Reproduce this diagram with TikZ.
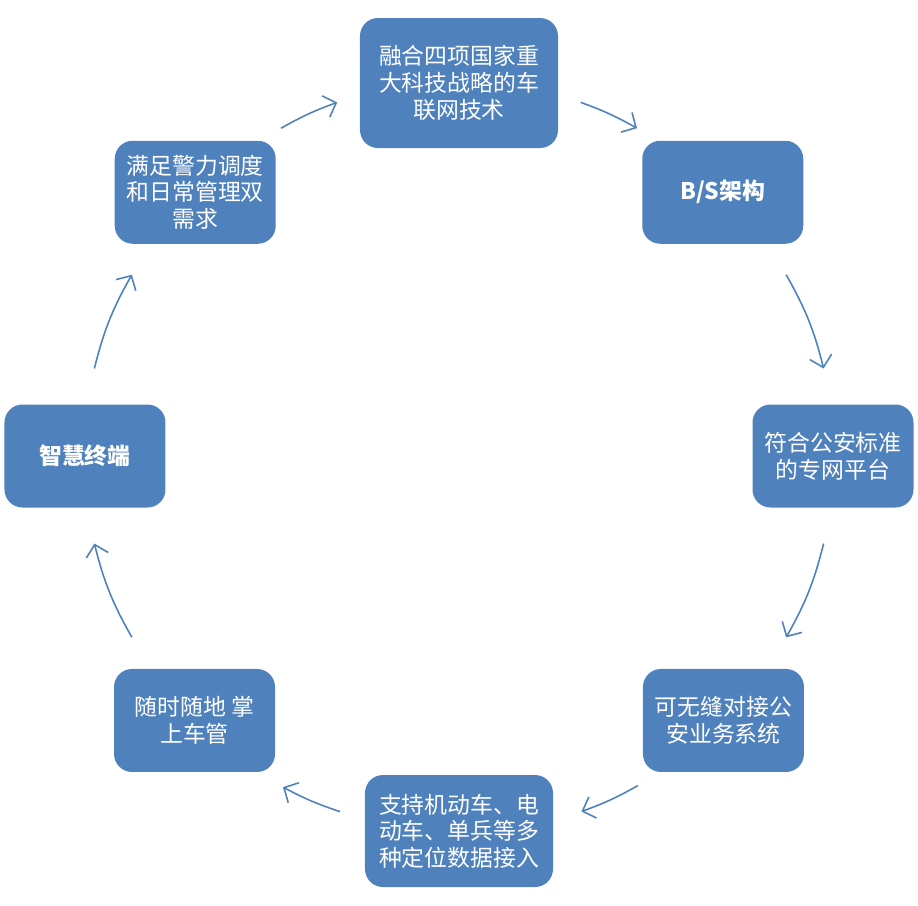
\documentclass[tikz,border=0pt]{standalone}
\usepackage{fontspec}
\setmainfont{Noto Sans CJK SC}
\usetikzlibrary{arrows.meta}
\definecolor{boxblue}{HTML}{4F81BD}
\tikzset{
  card/.style={rectangle, rounded corners=0.18cm, fill=boxblue, text=white, align=center,
    inner sep=0pt, minimum width=1.61cm, minimum height=1.03cm,
    font=\fontsize{6.5pt}{7.6pt}\selectfont},
  flow/.style={draw=boxblue, line width=0.45pt, -{Straight Barb[length=3.1pt,width=6.4pt]}}
}
\begin{document}
\begin{tikzpicture}
\useasboundingbox (-4.59,-4.49) rectangle (4.59,4.56);
\node[card, minimum width=1.98cm, minimum height=1.30cm] (tech) at (90:3.73){融合四项国家重\\大科技战略的车\\联网技术};
\node[card, font=\fontsize{6.5pt}{7.6pt}\selectfont\bfseries] (bs) at (45:3.73){B/S架构};
\node[card] (net) at (0:3.74){符合公安标准\\的专网平台};
\node[card] (sys) at (-45:3.74){可无缝对接公\\安业务系统};
\node[card, minimum width=1.88cm, minimum height=1.12cm] (gps) at (-90:3.75){支持机动车、电\\动车、单兵等多\\种定位数据接入};
\node[card] (mob) at (-135:3.74){随时随地 掌\\上车管};
\node[card, font=\fontsize{6.5pt}{7.6pt}\selectfont\bfseries] (term) at (180:3.74){智慧终端};
\node[card] (need) at (135:3.73){满足警力调度\\和日常管理双\\需求};
% arc ends on the ring
\coordinate (a1s) at (118.5:3.73); \coordinate (a1e) at (109:3.74);
\coordinate (a2s) at (71:3.74);    \coordinate (a2e) at (61.5:3.73);
\coordinate (a3s) at (29:3.74);    \coordinate (a3e) at (13.5:3.75);
\coordinate (a4s) at (-13.5:3.75); \coordinate (a4e) at (-29:3.74);
\coordinate (a5s) at (-61.5:3.75); \coordinate (a5e) at (-71:3.76);
\coordinate (a6s) at (-108.5:3.75);\coordinate (a6e) at (-118:3.75);
\coordinate (a7s) at (-151:3.74);  \coordinate (a7e) at (-166.5:3.75);
\coordinate (a8s) at (166.5:3.75); \coordinate (a8e) at (151:3.74);
\draw[flow] (a1s) to[bend left=4.75] (a1e);
\draw[flow] (a2s) to[bend left=4.75] (a2e);
\draw[flow] (a3s) to[bend left=7.75] (a3e);
\draw[flow] (a4s) to[bend left=7.75] (a4e);
\draw[flow] (a5s) to[bend left=4.75] (a5e);
\draw[flow] (a6s) to[bend left=4.75] (a6e);
\draw[flow] (a7s) to[bend left=7.75] (a7e);
\draw[flow] (a8s) to[bend left=7.75] (a8e);
\end{tikzpicture}
\end{document}
